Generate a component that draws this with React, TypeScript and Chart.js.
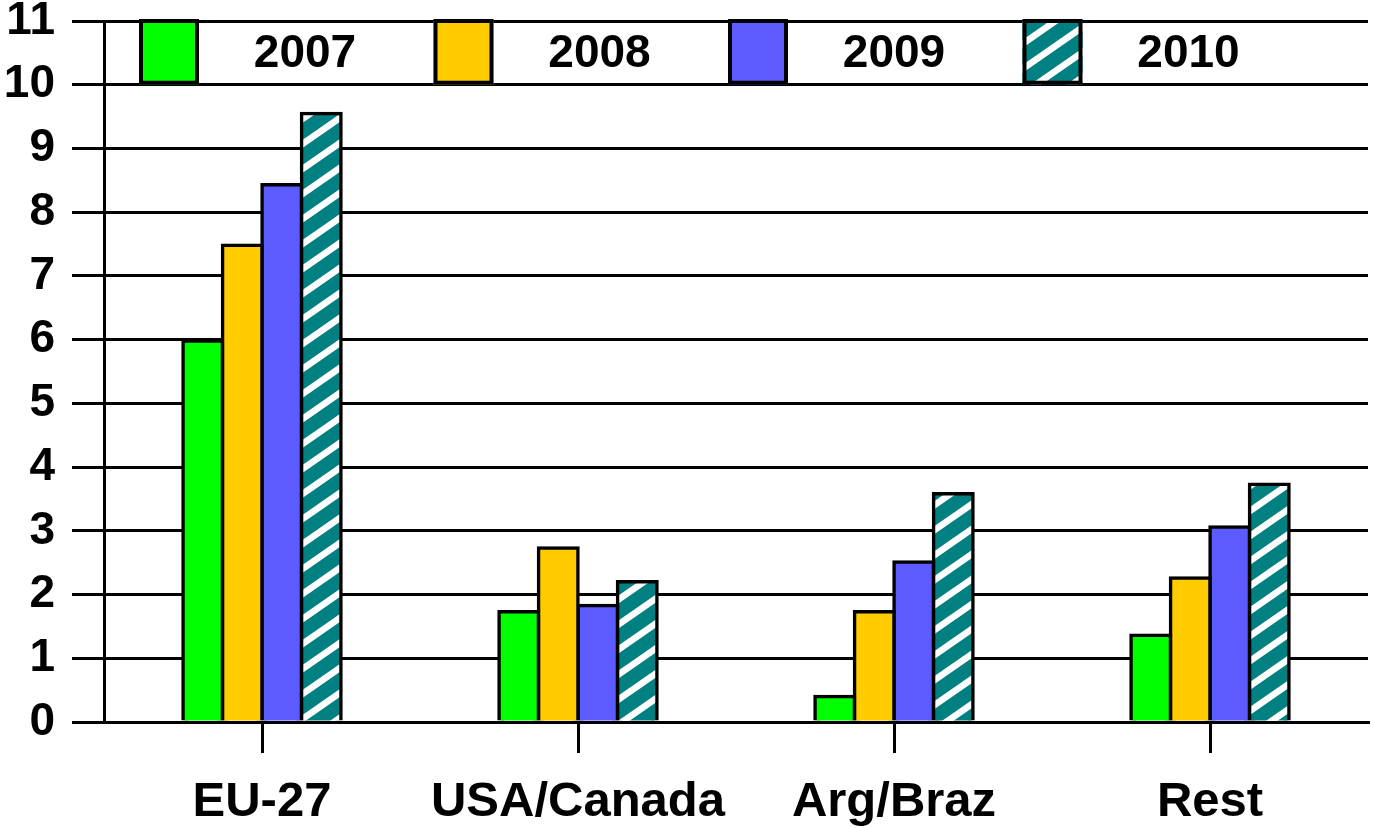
import React, { useEffect, useRef } from "react";
import { Chart, registerables } from "chart.js";

Chart.register(...registerables);

const categories = ["EU-27", "USA/Canada", "Arg/Braz", "Rest"];
const seriesNames = ["2007", "2008", "2009", "2010"];
const values2007 = [5.98, 1.73, 0.4, 1.36];
const values2008 = [7.48, 2.73, 1.73, 2.26];
const values2009 = [8.43, 1.83, 2.51, 3.06];
const values2010 = [9.55, 2.2, 3.58, 3.73];
const yMin = 0;
const yMax = 11;
const yStep = 1;

const solidColors = ["#00ff00", "#ffcc00", "#5b5bff"];
const hatchBase = "#008080";
const FONT = "'Liberation Sans', Arial, sans-serif";

function makeHatch(): CanvasPattern | string {
  const w = 36;
  const h = 25;
  const band = 8;
  const c = document.createElement("canvas");
  c.width = w;
  c.height = h;
  const g = c.getContext("2d");
  if (!g) return hatchBase;
  g.fillStyle = hatchBase;
  g.fillRect(0, 0, w, h);
  g.fillStyle = "#ffffff";
  for (const off of [-h, 0, h]) {
    g.beginPath();
    g.moveTo(0, off + h);
    g.lineTo(w, off);
    g.lineTo(w, off + band);
    g.lineTo(0, off + h + band);
    g.closePath();
    g.fill();
  }
  const p = g.createPattern(c, "repeat");
  return p || hatchBase;
}

const legendPlugin = {
  id: "boxLegend",
  afterDraw(chart: any) {
    const { ctx, chartArea, scales } = chart;
    const yTop = scales.y.getPixelForValue(yMax);
    const yBot = scales.y.getPixelForValue(yMax - 1);
    const firstOffset = 35;
    const spacing = 294.5;
    const swW = 60;
    const labelOffset = 166;
    ctx.save();
    chart.data.datasets.forEach((ds: any, i: number) => {
      const x = chartArea.left + firstOffset + i * spacing;
      ctx.fillStyle = ds.backgroundColor;
      ctx.fillRect(x, yTop, swW, yBot - yTop);
      ctx.lineWidth = 4;
      ctx.strokeStyle = "#000";
      ctx.strokeRect(x + 2, yTop, swW - 4, yBot - yTop - 2);
      ctx.fillStyle = "#000";
      ctx.font = `bold 46px ${FONT}`;
      ctx.textAlign = "center";
      ctx.textBaseline = "middle";
      ctx.fillText(ds.label, x + labelOffset, (yTop + yBot) / 2 + 1);
    });
    ctx.restore();
  },
};

export default function App() {
  const ref = useRef<HTMLCanvasElement | null>(null);

  useEffect(() => {
    if (!ref.current) return;
    const hatch = makeHatch();
    const seriesValues = [values2007, values2008, values2009, values2010];
    const datasets = seriesNames.map((name, i) => ({
      label: name,
      data: seriesValues[i],
      backgroundColor: i < 3 ? solidColors[i] : hatch,
      borderColor: "#000000",
      borderWidth: 3.5,
      inflateAmount: 1.75,
      categoryPercentage: 0.5,
      barPercentage: 1.0,
    }));

    const chart = new Chart(ref.current, {
      type: "bar",
      data: { labels: categories, datasets: datasets as any },
      options: {
        animation: false,
        responsive: false,
        layout: { padding: { top: 21, right: 5, left: 0, bottom: 0 } },
        plugins: {
          legend: { display: false },
          tooltip: { enabled: false },
          title: { display: false },
        },
        scales: {
          x: {
            grid: {
              display: true,
              drawOnChartArea: false,
              drawTicks: true,
              tickLength: 31,
              offset: false,
              color: "#000",
              lineWidth: 3,
            },
            border: { display: true, color: "#000", width: 3 },
            ticks: {
              color: "#000",
              padding: 20,
              font: { family: FONT, size: 49, weight: "bold" },
              maxRotation: 0,
              autoSkip: false,
            },
            afterFit: (scale: any) => {
              scale.height = 106;
              scale.paddingLeft = 0;
              scale.paddingRight = 0;
            },
          },
          y: {
            min: yMin,
            max: yMax,
            grid: {
              display: true,
              drawTicks: true,
              tickLength: 32,
              color: "#000",
              lineWidth: 3,
            },
            border: { display: true, color: "#000", width: 3 },
            ticks: {
              stepSize: yStep,
              color: "#000",
              padding: 17,
              font: { family: FONT, size: 46, weight: "bold" },
            },
            afterFit: (scale: any) => {
              scale.width = 104;
              scale.paddingTop = 0;
              scale.paddingBottom = 0;
            },
          },
        },
      },
      plugins: [legendPlugin],
    });
    return () => chart.destroy();
  }, []);

  return (
    <div style={{ position: "fixed", left: 0, top: 0, width: 1373, height: 828, background: "#fff" }}>
      <canvas ref={ref} width={1373} height={828} style={{ display: "block" }} />
    </div>
  );
}
